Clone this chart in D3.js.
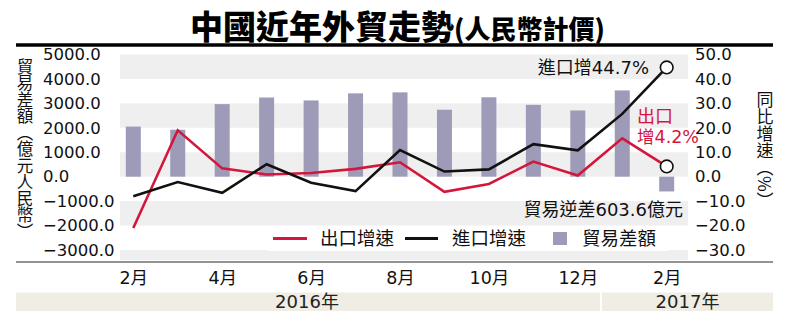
<!DOCTYPE html>
<html>
<head>
<meta charset="utf-8">
<script src="https://cdn.jsdelivr.net/npm/d3@7"></script>
<style>
  html, body { margin: 0; padding: 0; background: #fff; }
  svg { display: block; }
  .num { font-family: "DejaVu Sans", "Noto Sans CJK TC", sans-serif; }
  .cjk { font-family: "DejaVu Sans", "Noto Sans CJK TC", sans-serif; }
  .vert { font-family: "Noto Sans CJK TC", sans-serif; writing-mode: vertical-rl; }
</style>
</head>
<body>
<svg id="chart" width="800" height="333"></svg>
<script>
// Months shown (Feb 2016 – Feb 2017)
const months = ["2016-02","2016-03","2016-04","2016-05","2016-06","2016-07","2016-08",
                "2016-09","2016-10","2016-11","2016-12","2017-01","2017-02"];
// Trade balance, 億元人民幣
const tradeBalance = [2050, 1920, 2970, 3240, 3120, 3410, 3450, 2740, 3250, 2940, 2710, 3530, -603.6];
// Export growth, % y/y
const exportGrowth = [-21.0, 19.0, 3.4, 0.9, 1.5, 3.2, 5.9, -6.2, -3.0, 6.2, 0.5, 15.7, 4.2];
// Import growth, % y/y
const importGrowth = [-8.0, -2.2, -6.6, 5.1, -2.5, -5.9, 10.9, 2.1, 3.0, 13.3, 10.8, 25.7, 44.7];

// Axis ticks
const leftTicks = [5000, 4000, 3000, 2000, 1000, 0, -1000, -2000, -3000];
const rightTicks = [50, 40, 30, 20, 10, 0, -10, -20, -30];
const xTickMonths = ["2016-02","2016-04","2016-06","2016-08","2016-10","2016-12","2017-02"];
const xTickLabels = ["2月","4月","6月","8月","10月","12月","2月"];
// Year groups: first and last month of each
const years = ["2016年", "2017年"];
const yearSpans = [["2016-02","2016-12"], ["2017-01","2017-02"]];
// Shaded horizontal bands (upper edge of each, 億元)
const bandTops = [5000, 3000, 1000, -1000, -3000];

const svg = d3.select("#chart");
const RED = "#d4163c";
const BAR = "#9d9bb8";

const x = d3.scalePoint().domain(months).range([133.3, 666.7]);
const step = x.step();
const yL = d3.scaleLinear().domain([-3000, 5000]).range([250, 54.5]);
const yR = d3.scaleLinear().domain([-30, 50]).range([250, 54.5]);

const plotLeft = 120, plotRight = 688, axisY = 262;

// Title
const title = svg.append("text")
  .attr("transform", "translate(190,38.5)")
  .style("font-family", "'Noto Sans CJK TC', sans-serif")
  .style("font-weight", 900).attr("fill", "#000");
title.append("tspan").style("font-size", "33px").text("中國近年外貿走勢");
title.append("tspan").style("font-size", "26px").text("(人民幣計價)");

svg.append("line")
  .attr("x1", 16).attr("x2", 773).attr("y1", 45).attr("y2", 45)
  .attr("stroke", "#000").attr("stroke-width", 3.5);

// Background bands
svg.append("g").selectAll("rect").data(bandTops).join("rect")
  .attr("x", plotLeft).attr("width", plotRight - plotLeft)
  .attr("y", d => yL(d))
  .attr("height", d => Math.min(yL(d - 1000), axisY - 2) - yL(d))
  .attr("fill", "#efefef");

// Bottom axis rule
svg.append("line")
  .attr("x1", 16).attr("x2", 773).attr("y1", axisY).attr("y2", axisY)
  .attr("stroke", "#6e6e6e").attr("stroke-width", 1.5);

// Year strip
const yearG = svg.append("g");
yearSpans.forEach((s, i) => {
  const x0 = i === 0 ? 16 : (x(s[0]) - step / 2 + 2);
  const x1 = i === 0 ? (x(s[1]) + step / 2) : 773;
  yearG.append("rect").attr("x", x0).attr("y", 292.5).attr("width", x1 - x0).attr("height", 18.5)
    .attr("fill", "#efede4");
  yearG.append("text").attr("class", "num")
    .attr("x", i === 0 ? 307 : (x0 + x1) / 2).attr("y", 302)
    .attr("dy", "0.36em").attr("text-anchor", "middle")
    .style("font-size", "18px").attr("fill", "#222")
    .text(years[i]);
});

// Bars: trade balance
svg.append("g").selectAll("rect").data(months).join("rect")
  .attr("x", d => x(d) - 7.5).attr("width", 15)
  .attr("y", (d, i) => yL(Math.max(0, tradeBalance[i])))
  .attr("height", (d, i) => Math.abs(yL(tradeBalance[i]) - yL(0)))
  .attr("fill", BAR);

// Lines
const line = d3.line().x(d => x(d[0])).y(d => yR(d[1]));
svg.append("path")
  .datum(months.map((m, i) => [m, exportGrowth[i]]))
  .attr("d", line).attr("fill", "none")
  .attr("stroke", RED).attr("stroke-width", 2.6).attr("stroke-linejoin", "miter");
svg.append("path")
  .datum(months.map((m, i) => [m, importGrowth[i]]))
  .attr("d", line).attr("fill", "none")
  .attr("stroke", "#111").attr("stroke-width", 2.6).attr("stroke-linejoin", "miter");

// End markers
const last = months.length - 1;
[importGrowth[last], exportGrowth[last]].forEach(v => {
  svg.append("circle").attr("cx", x(months[last])).attr("cy", yR(v)).attr("r", 6.3)
    .attr("fill", "#fff").attr("stroke", "#111").attr("stroke-width", 1.6);
});

// Left axis
const leftAxis = svg.append("g").attr("transform", "translate(43,0)")
  .call(d3.axisRight(yL).tickValues(leftTicks).tickSize(0).tickPadding(0)
    .tickFormat(d => d3.format(".1f")(d).replace("-", "−")));
leftAxis.select(".domain").remove();
leftAxis.selectAll("text").attr("class", "num").style("font-size", "16.5px").attr("fill", "#111");

// Right axis
const rightAxis = svg.append("g").attr("transform", "translate(695,0)")
  .call(d3.axisRight(yR).tickValues(rightTicks).tickSize(0).tickPadding(0)
    .tickFormat(d => d3.format(".1f")(d).replace("-", "−")));
rightAxis.select(".domain").remove();
rightAxis.selectAll("text").attr("class", "num").style("font-size", "16.5px").attr("fill", "#111");

// Bottom axis
const xAxis = svg.append("g").attr("transform", `translate(0,${axisY})`)
  .call(d3.axisBottom(x).tickValues(xTickMonths).tickSize(0).tickPadding(10)
    .tickFormat(d => xTickLabels[xTickMonths.indexOf(d)]));
xAxis.select(".domain").remove();
xAxis.selectAll("text").attr("class", "num").style("font-size", "17.5px").attr("fill", "#111");

// Axis titles (vertical)
svg.append("text").attr("class", "vert")
  .attr("x", 25).attr("y", 58)
  .style("font-size", "16.5px").attr("fill", "#111")
  .text("貿易差額（億元人民幣）");
svg.append("text").attr("class", "vert")
  .attr("x", 765).attr("y", 91)
  .style("font-size", "17px").attr("fill", "#111")
  .text("同比增速（%）");

// Value notes
svg.append("text").attr("class", "cjk")
  .attr("x", 649).attr("y", yR(importGrowth[last])).attr("dy", "0.36em")
  .attr("text-anchor", "end").style("font-size", "18px").attr("fill", "#111")
  .text("進口增" + importGrowth[last] + "%");
svg.append("text").attr("class", "cjk")
  .attr("x", 637).attr("y", 117).attr("dy", "0.36em")
  .style("font-size", "18px").attr("fill", RED)
  .text("出口");
svg.append("text").attr("class", "cjk")
  .attr("x", 637).attr("y", 137).attr("dy", "0.36em")
  .style("font-size", "17.5px").attr("fill", RED)
  .text("增" + exportGrowth[last] + "%");
svg.append("text").attr("class", "cjk")
  .attr("x", 683).attr("y", 210).attr("dy", "0.36em")
  .attr("text-anchor", "end").style("font-size", "18px").attr("fill", "#111")
  .text("貿易逆差" + Math.abs(tradeBalance[last]) + "億元");

// Legend
const lg = svg.append("g");
const legendY = 238.5;
lg.append("rect").attr("x", 268).attr("y", 226).attr("width", 400).attr("height", 25).attr("fill", "#fff");
lg.append("line").attr("x1", 273).attr("x2", 307).attr("y1", legendY).attr("y2", legendY)
  .attr("stroke", RED).attr("stroke-width", 3);
lg.append("text").attr("class", "cjk").attr("x", 320).attr("y", legendY).attr("dy", "0.36em")
  .style("font-size", "18.5px").attr("fill", "#111").text("出口增速");
lg.append("line").attr("x1", 405).attr("x2", 438).attr("y1", legendY).attr("y2", legendY)
  .attr("stroke", "#111").attr("stroke-width", 3);
lg.append("text").attr("class", "cjk").attr("x", 452).attr("y", legendY).attr("dy", "0.36em")
  .style("font-size", "18.5px").attr("fill", "#111").text("進口增速");
lg.append("rect").attr("x", 553).attr("y", 232).attr("width", 14).attr("height", 13).attr("fill", BAR);
lg.append("text").attr("class", "cjk").attr("x", 582).attr("y", legendY).attr("dy", "0.36em")
  .style("font-size", "18.5px").attr("fill", "#111").text("貿易差額");
</script>
</body>
</html>
